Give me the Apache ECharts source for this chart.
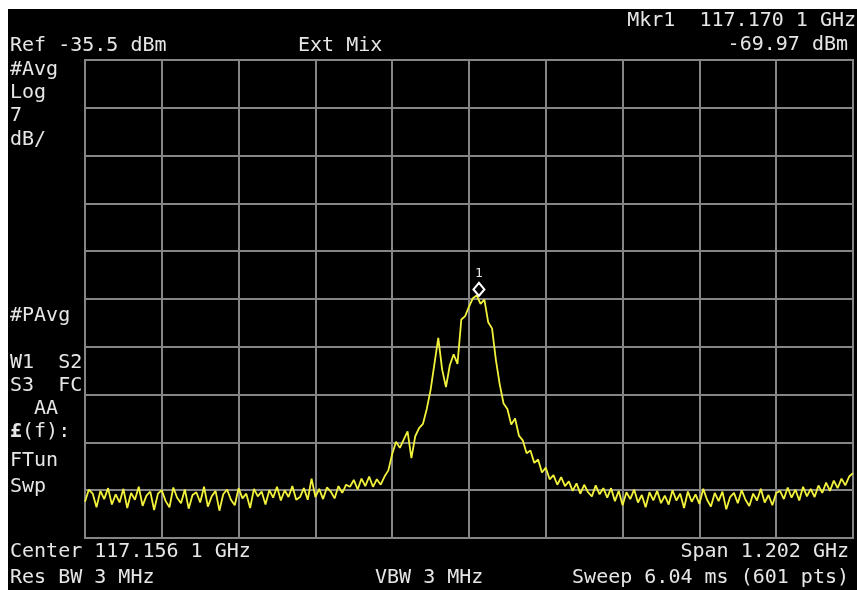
<!DOCTYPE html>
<html>
<head>
<meta charset="utf-8">
<script src="https://cdn.jsdelivr.net/npm/echarts@6/dist/echarts.min.js"></script>
<style>
html,body{margin:0;padding:0;background:#fff;}
#c{width:857px;height:590px;}
</style>
</head>
<body>
<div id="c"></div>
<script>
// ---- instrument settings ----
const REF_DBM = -35.5;
const DB_PER_DIV = 7;
const DIVS = 10;
const CENTER_GHZ = 117.1561;
const SPAN_GHZ = 1.202;
const SWEEP_POINTS = 601;
const STEP = 3;               // every 3rd sweep point is listed below
const MARKER_GHZ = 117.1701;
const MARKER_DBM = -69.97;

// ---- trace, dBm, sweep points 0,3,6,...,600 ----
const traceDbm = [
  -100.2, -98.4, -99.0, -101.0, -98.6, -99.8, -98.2, -100.6, -99.1, -100.3,
  -98.3, -101.1, -98.9, -99.9, -98.0, -100.8, -99.3, -98.7, -101.4, -99.0,
  -98.5, -100.1, -101.0, -98.1, -99.6, -100.4, -98.4, -101.2, -99.2, -98.8,
  -100.3, -98.0, -100.9, -99.4, -98.6, -101.5, -99.1, -98.4, -99.9, -100.7,
  -98.2, -99.7, -99.0, -101.1, -98.3, -99.4, -98.7, -100.6, -98.5, -99.6,
  -98.0, -100.0, -98.5, -99.5, -97.9, -99.9,
  -99.5, -98.2, -99.9, -96.8, -99.5, -98.3, -99.8, -98.1, -98.7, -99.7, -97.9, -98.9, -97.7,
  -98.0, -97.0, -98.4, -96.8, -97.9, -96.5, -98.0, -96.9, -97.7, -96.5,
  -95.6, -93.2, -91.4, -92.3, -91.1, -89.9, -93.8, -90.6, -89.4, -88.8,
  -86.6, -83.8, -80.0, -76.2, -80.8, -83.4, -80.2, -78.6, -80.0, -73.5,
  -73.0, -71.6, -70.4, -69.97, -71.2, -70.6, -73.9, -74.8, -79.4, -83.0,
  -85.8, -86.6, -88.9, -88.0, -90.5, -91.2, -93.1, -92.7, -94.5, -94.0,
  -95.9, -95.2, -96.9, -96.3, -97.7, -96.6, -97.9, -97.2,
  -98.6, -97.5, -99.0, -97.7, -98.8, -99.4, -97.8, -99.1, -98.2,
  -99.6, -98.2, -100.1, -98.6, -100.7, -98.8, -99.8, -98.4, -100.3, -99.2, -101.0, -98.8, -100.0, -98.6, -100.4,
  -99.3, -100.6, -98.5, -100.0, -99.0, -101.1, -98.7, -100.2, -99.1, -100.5,
  -98.3, -99.9, -100.9, -98.9, -100.1, -98.7, -101.3, -99.5, -98.9, -100.4,
  -98.5, -99.9, -100.8, -99.0, -100.0, -98.3, -100.3, -99.2, -100.7, -98.9,
  -98.6, -99.8, -98.1, -99.6, -98.4, -100.0, -98.0, -99.4, -98.3, -99.5,
  -97.8, -98.9, -97.4, -98.6, -97.1, -98.2,
  -96.8, -97.8, -96.5, -96.0
];

// ---- screen annotation texts ----
const topLeftText = 'Ref -35.5 dBm';
const topMidText = 'Ext Mix';
const markerFreqText = 'Mkr1  117.170 1 GHz';
const markerAmpText = '-69.97 dBm';
const sideTexts = ['#Avg', 'Log', '7', 'dB/'];
const sideTexts2 = ['#PAvg', 'W1  S2', 'S3  FC', '  AA', '{b|£}(f):', 'FTun', 'Swp'];
const bottomLeft = ['Center 117.156 1 GHz', 'Res BW 3 MHz'];
const bottomMid = 'VBW 3 MHz';
const bottomRight = ['Span 1.202 GHz', 'Sweep 6.04 ms (601 pts)'];

// ---- derived ----
const LAST = SWEEP_POINTS - 1;
const startGHz = CENTER_GHZ - SPAN_GHZ / 2;
const seriesData = traceDbm.map((v, k) => [k * STEP, v - REF_DBM]);
const markerIdx = (MARKER_GHZ - startGHz) / SPAN_GHZ * LAST;

const FONT = '20px "DejaVu Sans Mono"';
const TXT = '#e6e6e6';
function t(text, x, y, align) {
  return {type: 'text', silent: true, z: 10,
    style: {text: text, x: x, y: y, font: FONT, fill: TXT, align: align || 'left', verticalAlign: 'middle',
      rich: {b: {font: 'bold 20px "DejaVu Sans Mono"', fill: TXT}}}};
}
const graphics = [
  {type: 'rect', shape: {x: 0, y: 0, width: 857, height: 9}, style: {fill: '#fff'}, z: 20},
  {type: 'rect', shape: {x: 0, y: 0, width: 8, height: 590}, style: {fill: '#fff'}, z: 20},
  t(topLeftText, 10, 46),
  t(topMidText, 298, 46),
  t(markerFreqText, 856, 21, 'right'),
  t(markerAmpText, 848, 45, 'right'),
  t(bottomLeft[0], 10, 552),
  t(bottomLeft[1], 10, 578),
  t(bottomMid, 375, 578),
  t(bottomRight[0], 849, 552, 'right'),
  t(bottomRight[1], 849, 578, 'right')
];
const sideY = [70, 93, 116, 140];
sideTexts.forEach((s, i) => graphics.push(t(s, 10, sideY[i])));
const sideY2 = [316, 363, 386, 409, 432, 461, 487];
sideTexts2.forEach((s, i) => graphics.push(t(s, 10, sideY2[i])));

const chart = echarts.init(document.getElementById('c'), null, {renderer: 'canvas'});
chart.setOption({
  backgroundColor: '#000',
  animation: false,
  grid: {left: 85, right: 4, top: 60, bottom: 52, show: true, borderColor: '#8a8a8a', borderWidth: 2, backgroundColor: 'transparent'},
  xAxis: {type: 'value', min: 0, max: LAST, interval: LAST / DIVS,
    axisLine: {show: false}, axisTick: {show: false}, axisLabel: {show: false},
    splitLine: {show: true, lineStyle: {color: '#858585', width: 2}}},
  yAxis: {type: 'value', min: -DB_PER_DIV * DIVS, max: 0, interval: DB_PER_DIV,
    axisLine: {show: false}, axisTick: {show: false}, axisLabel: {show: false},
    splitLine: {show: true, lineStyle: {color: '#858585', width: 2}}},
  series: [{
    type: 'line', data: seriesData, showSymbol: false, symbol: 'none',
    lineStyle: {color: '#f2f23c', width: 1.8},
    markPoint: {
      symbol: 'diamond', symbolSize: [11, 13], symbolOffset: [1, -6],
      itemStyle: {color: 'rgba(0,0,0,0)', borderColor: '#ffffff', borderWidth: 2},
      label: {show: true, position: 'top', distance: 2, formatter: '1', color: '#e6e6e6', fontSize: 13, fontFamily: 'DejaVu Sans Mono'},
      data: [{coord: [markerIdx, MARKER_DBM - REF_DBM]}]
    }
  }],
  graphic: graphics
});
</script>
</body>
</html>
